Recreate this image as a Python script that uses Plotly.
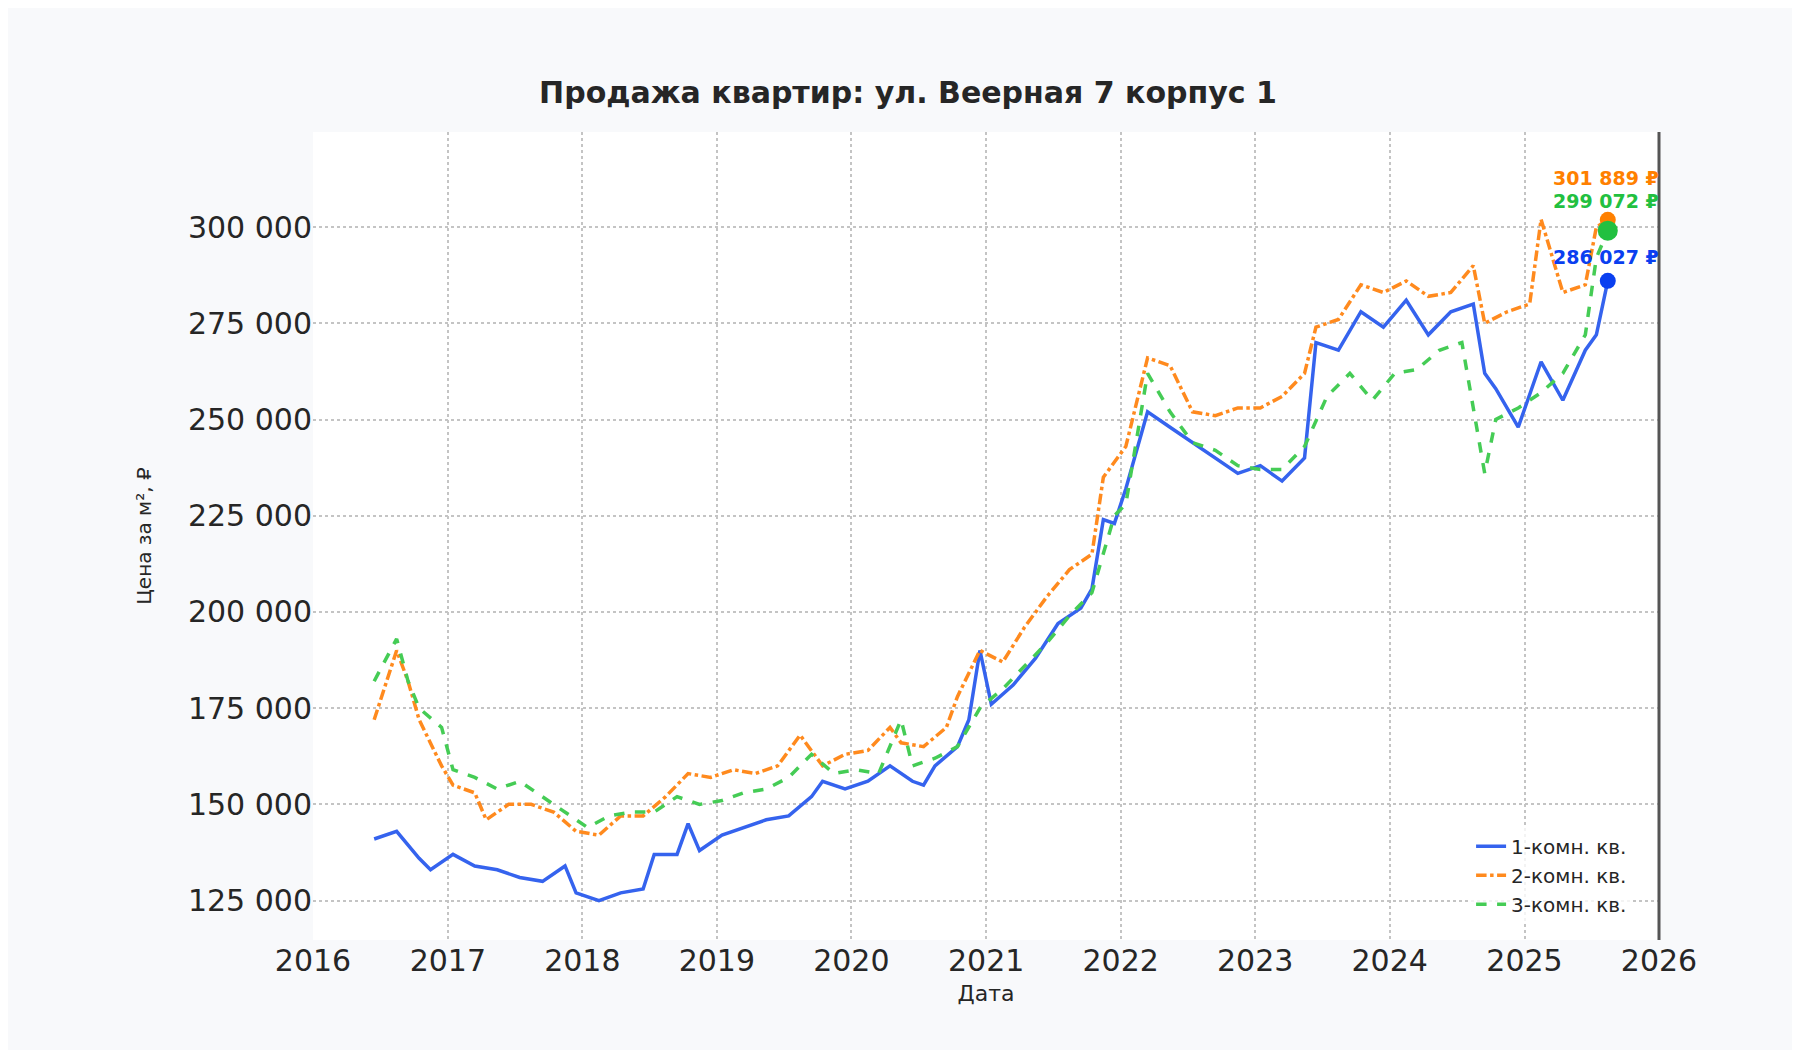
import plotly.graph_objects as go

d1 = ["2016-06","2016-08","2016-10","2016-11","2017-01","2017-03","2017-05","2017-07","2017-09","2017-11","2017-12","2018-02","2018-04","2018-06","2018-07","2018-09","2018-10","2018-11","2019-01","2019-03","2019-05","2019-07","2019-09","2019-10","2019-12","2020-02","2020-04","2020-06","2020-07","2020-08","2020-10","2020-11","2020-12","2021-01","2021-03","2021-05","2021-07","2021-09","2021-10","2021-11","2021-12","2022-01","2022-03","2022-05","2022-07","2022-09","2022-11","2023-01","2023-03","2023-05","2023-06","2023-08","2023-10","2023-12","2024-02","2024-04","2024-06","2024-08","2024-09","2024-10","2024-12","2025-02","2025-04","2025-06","2025-07","2025-08"]
v1 = [141,143,136,133,137,134,133,131,130,134,127,125,127,128,137,137,145,138,142,144,146,147,152,156,154,156,160,156,155,160,165,172,190,176,181,188,197,201,206,224,223,232,252,248,244,240,236,238,234,240,270,268,278,274,281,272,278,280,262,258,248,265,255,268,272,286.027]

d2 = ["2016-06","2016-08","2016-09","2016-10","2016-12","2017-01","2017-03","2017-04","2017-06","2017-08","2017-10","2017-12","2018-02","2018-04","2018-06","2018-08","2018-10","2018-12","2019-02","2019-04","2019-06","2019-08","2019-10","2019-12","2020-02","2020-04","2020-05","2020-07","2020-09","2020-10","2020-12","2021-02","2021-04","2021-06","2021-08","2021-10","2021-11","2022-01","2022-03","2022-05","2022-07","2022-09","2022-11","2023-01","2023-03","2023-05","2023-06","2023-08","2023-10","2023-12","2024-02","2024-04","2024-06","2024-08","2024-09","2024-11","2025-01","2025-02","2025-04","2025-06","2025-07","2025-08"]
v2 = [172,190,182,172,160,155,153,146,150,150,148,143,142,147,147,152,158,157,159,158,160,168,160,163,164,170,166,165,170,178,190,187,196,204,211,215,235,243,266,264,252,251,253,253,256,262,274,276,285,283,286,282,283,290,275,278,280,302,283,285,300,301.889]

d3 = ["2016-06","2016-08","2016-09","2016-10","2016-12","2017-01","2017-03","2017-05","2017-07","2017-09","2017-11","2018-01","2018-03","2018-05","2018-07","2018-09","2018-11","2019-01","2019-03","2019-05","2019-07","2019-09","2019-11","2020-01","2020-03","2020-05","2020-06","2020-08","2020-10","2020-12","2021-02","2021-04","2021-06","2021-08","2021-10","2021-12","2022-01","2022-03","2022-05","2022-07","2022-09","2022-11","2023-01","2023-03","2023-05","2023-07","2023-09","2023-11","2024-01","2024-03","2024-05","2024-07","2024-09","2024-10","2024-12","2025-02","2025-04","2025-06","2025-07","2025-08"]
v3 = [182,193,182,175,170,159,157,154,156,152,148,144,147,148,148,152,150,151,153,154,157,163,158,159,158,172,160,162,165,175,180,186,192,199,205,225,228,262,252,244,242,238,237,237,243,256,262,255,262,263,268,270,236,250,253,257,262,272,292,299.072]

names = ["1-комн. кв.", "2-комн. кв.", "3-комн. кв."]
colors = ["#3563ee", "#ff8a1e", "#45cc55"]
dashes = ["solid", "dashdot", "dash"]
lbl_colors = ["#0a3ff0", "#ff8000", "#22c040"]
yt = [125000,150000,175000,200000,225000,250000,275000,300000]
ytt = ["125 000","150 000","175 000","200 000","225 000","250 000","275 000","300 000"]

fig = go.Figure()
series = [(d1, v1), (d2, v2), (d3, v3)]
for (d, v), n, c, ds in zip(series, names, colors, dashes):
    fig.add_trace(go.Scatter(x=[x + "-15" for x in d], y=[a * 1000 for a in v], name=n, mode="lines",
                             line=dict(color=c, width=3.5, dash=ds)))
order = [1, 2, 0]
sizes = [16, 16, 20]
yshift = [24, 42, 30]
for i in order:
    d, v = series[i]
    fig.add_trace(go.Scatter(x=[d[-1] + "-15"], y=[v[-1] * 1000], mode="markers", showlegend=False,
                             marker=dict(color=lbl_colors[i], size=sizes[i])))
    fig.add_annotation(x=d[-1] + "-15", y=v[-1] * 1000, text="<b>%s ₽</b>" % f"{v[-1]*1000:,.0f}".replace(",", " "),
                       showarrow=False, yshift=yshift[i], xshift=-2,
                       font=dict(color=lbl_colors[i], size=19))

grid = dict(showgrid=True, gridcolor="#c4c4c4", griddash="dot", gridwidth=2)
fig.update_layout(
    width=1800, height=1050, paper_bgcolor="#f8f9fb", plot_bgcolor="#ffffff",
    font=dict(family="DejaVu Sans", color="#262626"),
    title=dict(text="<b>Продажа квартир: ул. Веерная 7 корпус 1</b>", x=0.5, y=0.93, xanchor="center", font=dict(size=30)),
    margin=dict(l=305, r=149, t=124, b=118),
    xaxis=dict(range=["2016-01-01", "2026-01-01"], dtick="M12", tickformat="%Y", tickfont=dict(size=30),
               title=dict(text="Дата", font=dict(size=22), standoff=8), zeroline=False, **grid),
    yaxis=dict(range=[114760, 324700], tickvals=yt, ticktext=ytt, tickfont=dict(size=30),
               title=dict(text="Цена за м², ₽", font=dict(size=20), standoff=30), zeroline=False, **grid),
    legend=dict(x=0.98, y=0.02, xanchor="right", yanchor="bottom", bgcolor="rgba(255,255,255,0.8)",
                font=dict(size=20)),
)
fig.add_shape(type="line", xref="paper", yref="paper", x0=1, x1=1, y0=0, y1=1, line=dict(color="#555", width=3))
fig.write_html("out.html")
